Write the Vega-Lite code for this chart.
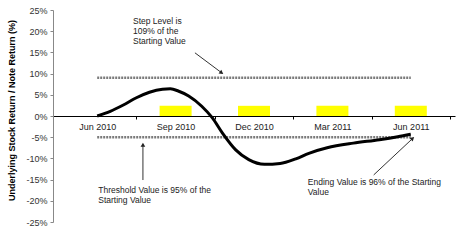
{
  "$schema": "https://vega.github.io/schema/vega-lite/v6.json",
  "width": 402,
  "height": 212,
  "autosize": {"type": "none"},
  "padding": {"left": 53, "top": 10, "right": 8, "bottom": 20},
  "config": {"view": {"stroke": null}, "font": "Liberation Sans"},
  "datasets": {
    "notes": [
      {"month": 3, "ret": 2.4},
      {"month": 6, "ret": 2.4},
      {"month": 9, "ret": 2.4},
      {"month": 12, "ret": 2.4}
    ],
    "levels": [
      {"name": "Step Level", "ret": 9, "from": 0, "to": 12},
      {"name": "Threshold", "ret": -5, "from": 0, "to": 12}
    ],
    "stock": [
      {"month": 0, "ret": 0},
      {"month": 0.5, "ret": 1.1},
      {"month": 1.0, "ret": 2.6},
      {"month": 1.5, "ret": 4.3},
      {"month": 2.0, "ret": 5.6},
      {"month": 2.5, "ret": 6.3},
      {"month": 2.8, "ret": 6.4},
      {"month": 3.1, "ret": 5.9},
      {"month": 3.5, "ret": 4.7},
      {"month": 4.0, "ret": 2.3},
      {"month": 4.4, "ret": -0.4},
      {"month": 4.8, "ret": -4.1},
      {"month": 5.3, "ret": -8.0},
      {"month": 5.8, "ret": -10.3},
      {"month": 6.4, "ret": -11.4},
      {"month": 7.0, "ret": -11.2},
      {"month": 7.6, "ret": -10.1},
      {"month": 8.1, "ret": -8.8},
      {"month": 8.8, "ret": -7.5},
      {"month": 9.8, "ret": -6.4},
      {"month": 10.8, "ret": -5.6},
      {"month": 11.5, "ret": -4.9},
      {"month": 12.0, "ret": -4.3}
    ],
    "arrows": [
      {"id": "step", "month": 3.74, "ret": 14.9, "m2": 4.76, "v2": 10.2},
      {"id": "threshold", "month": 1.75, "ret": -15.1, "m2": 1.75, "v2": -6.8},
      {"id": "ending", "month": 10.58, "ret": -13.9, "m2": 12.07, "v2": -5.3}
    ],
    "notes_text": [
      {"month": 1.37, "ret": 23.3, "label": "Step Level is\n109% of the\n\u00a0Starting Value"},
      {"month": 0.04, "ret": -16.5, "label": "Threshold Value is 95% of the\nStarting Value"},
      {"month": 8.06, "ret": -14.6, "label": "Ending Value is 96% of the Starting\nValue"}
    ]
  },
  "encoding": {
    "x": {
      "field": "month", "type": "quantitative",
      "scale": {"domain": [-1.5, 13.5], "nice": false, "zero": false},
      "axis": {
        "title": null,
        "values": [0, 1.5, 3, 4.5, 6, 7.5, 9, 10.5, 12, 13.5],
        "labelExpr": "datum.value == 0 ? 'Jun 2010' : datum.value == 3 ? 'Sep 2010' : datum.value == 6 ? 'Dec 2010' : datum.value == 9 ? 'Mar 2011' : datum.value == 12 ? 'Jun 2011' : ''",
        "labelFlush": false,
        "labelOverlap": false,
        "labelFontSize": 9,
        "labelColor": "#222222",
        "labelPadding": 3,
        "offset": -106,
        "grid": false,
        "domainColor": "#000000",
        "domainWidth": 1,
        "tickColor": "#000000",
        "tickSize": 3,
        "tickOpacity": {"condition": {"test": "datum.value % 3 === 0", "value": 0}, "value": 1}
      }
    },
    "y": {
      "field": "ret", "type": "quantitative",
      "scale": {"domain": [-25, 25], "nice": false},
      "axis": {
        "title": "Underlying Stock Return / Note Return (%)",
        "titleFontSize": 9,
        "titleFontWeight": "bold",
        "titleColor": "#000000",
        "titlePadding": 9,
        "titleY": 100,
        "tickCount": 10,
        "labelExpr": "datum.value + '%'",
        "labelOverlap": false,
        "labelFontSize": 9,
        "labelColor": "#333333",
        "labelPadding": 3,
        "grid": false,
        "domainColor": "#888888",
        "tickColor": "#888888",
        "tickSize": 3
      }
    }
  },
  "layer": [
    {
      "data": {"name": "notes"},
      "mark": {"type": "bar", "color": "#ffff00", "width": 32}
    },
    {
      "data": {"name": "levels"},
      "mark": {"type": "rule", "color": "#7a7a7a", "strokeWidth": 2.5, "strokeDash": [2, 1]},
      "encoding": {
        "x": {"field": "from", "type": "quantitative"},
        "x2": {"field": "to"}
      }
    },
    {
      "data": {"name": "stock"},
      "mark": {"type": "line", "color": "#000000", "strokeWidth": 3, "interpolate": "monotone"}
    },
    {
      "data": {"name": "arrows"},
      "mark": {"type": "rule", "color": "#333333", "strokeWidth": 1},
      "encoding": {
        "x2": {"field": "m2"},
        "y2": {"field": "v2"}
      }
    },
    {
      "data": {"name": "arrows"},
      "transform": [{"filter": "datum.id == 'step'"}],
      "mark": {"type": "point", "shape": "triangle-up", "filled": true, "color": "#222222", "size": 22, "angle": 126, "opacity": 1},
      "encoding": {
        "x": {"field": "m2", "type": "quantitative"},
        "y": {"field": "v2", "type": "quantitative"}
      }
    },
    {
      "data": {"name": "arrows"},
      "transform": [{"filter": "datum.id == 'threshold'"}],
      "mark": {"type": "point", "shape": "triangle-up", "filled": true, "color": "#222222", "size": 22, "angle": 0, "opacity": 1},
      "encoding": {
        "x": {"field": "m2", "type": "quantitative"},
        "y": {"field": "v2", "type": "quantitative"}
      }
    },
    {
      "data": {"name": "arrows"},
      "transform": [{"filter": "datum.id == 'ending'"}],
      "mark": {"type": "point", "shape": "triangle-up", "filled": true, "color": "#222222", "size": 22, "angle": 48, "opacity": 1},
      "encoding": {
        "x": {"field": "m2", "type": "quantitative"},
        "y": {"field": "v2", "type": "quantitative"}
      }
    },
    {
      "data": {"name": "notes_text"},
      "mark": {"type": "text", "align": "left", "baseline": "top", "fontSize": 8.5, "lineHeight": 10, "lineBreak": "\n", "color": "#222222"},
      "encoding": {
        "text": {"field": "label"}
      }
    }
  ]
}
